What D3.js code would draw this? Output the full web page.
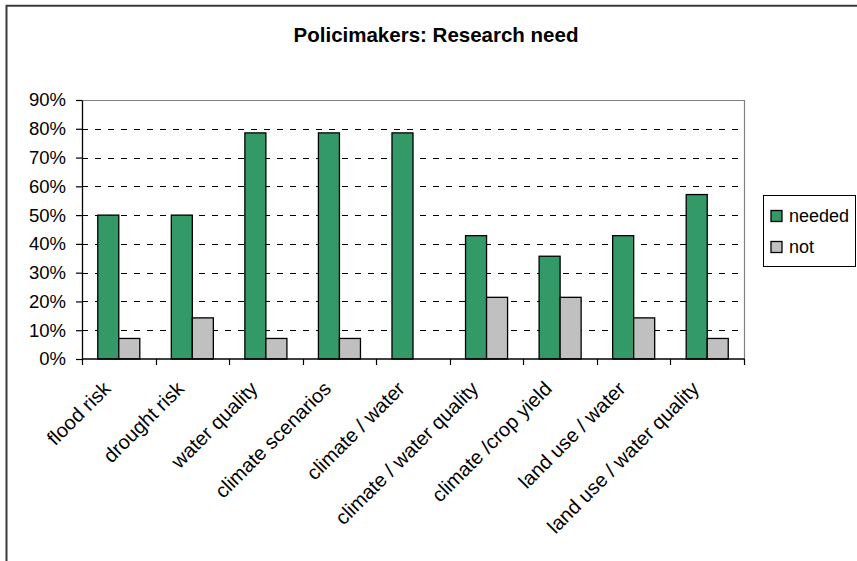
<!DOCTYPE html>
<html>
<head>
<meta charset="utf-8">
<script src="https://cdn.jsdelivr.net/npm/d3@7"></script>
<style>
  html, body { margin: 0; padding: 0; background: #fff; }
  svg { display: block; font-family: "Liberation Sans", Arial, sans-serif; }
</style>
</head>
<body>
<svg id="chart" width="857" height="561"></svg>
<script>
// Survey answers: share of policymakers who consider each topic a research need
const categories = [
  "flood risk", "drought risk", "water quality", "climate scenarios",
  "climate / water", "climate / water quality", "climate /crop yield",
  "land use / water", "land use / water quality"
];
const seriesNames = ["needed", "not"];
const needed = [0.5, 0.5, 0.7857, 0.7857, 0.7857, 0.4286, 0.3571, 0.4286, 0.5714];
const notNeeded = [0.0714, 0.1429, 0.0714, 0.0714, 0, 0.2143, 0.2143, 0.1429, 0.0714];
const yTicks = [0, 0.1, 0.2, 0.3, 0.4, 0.5, 0.6, 0.7, 0.8, 0.9];
const colors = ["#339966", "#c0c0c0"];

const svg = d3.select("#chart");
const plot = { left: 82, right: 744, top: 100, bottom: 359 };

// Outer chart frame
svg.append("path")
  .attr("d", "M6.5,561 V5.8 H857")
  .attr("fill", "none")
  .attr("stroke", "#3a3a3a")
  .attr("stroke-width", 2);

// Title
svg.append("text")
  .attr("x", 436)
  .attr("y", 41.5)
  .attr("text-anchor", "middle")
  .attr("font-weight", "bold")
  .attr("font-size", "20.5px")
  .attr("fill", "#000")
  .text("Policimakers: Research need");

const x = d3.scaleBand()
  .domain(categories)
  .range([plot.left, plot.right])
  .paddingInner(3 / 7)
  .paddingOuter(1.5 / 7);
const xs = d3.scaleBand().domain(seriesNames).range([0, x.bandwidth()]);
const xEdge = d3.scaleLinear().domain([0, categories.length]).range([plot.left, plot.right]);
const y = d3.scaleLinear().domain([0, 0.9]).range([plot.bottom, plot.top]);

// Dashed gridlines
svg.append("g")
  .selectAll("line")
  .data(yTicks.filter(t => t > 0 && t < 0.9))
  .join("line")
  .attr("x1", plot.left).attr("x2", plot.right)
  .attr("y1", d => Math.round(y(d)) + 0.5).attr("y2", d => Math.round(y(d)) + 0.5)
  .attr("stroke", "#000")
  .attr("stroke-width", 1)
  .attr("stroke-dasharray", "6,7");

// Plot area border (top and right)
svg.append("path")
  .attr("d", `M${plot.left},${Math.round(plot.top) + 0.5} H${plot.right + 0.5} V${plot.bottom}`)
  .attr("fill", "none")
  .attr("stroke", "#808080")
  .attr("stroke-width", 1.2);

// Bars
const rows = categories.map((c, i) => ({ cat: c, values: [needed[i], notNeeded[i]] }));
const groups = svg.append("g").selectAll("g")
  .data(rows)
  .join("g")
  .attr("transform", d => `translate(${x(d.cat)},0)`);
groups.selectAll("rect")
  .data(d => d.values.map((v, j) => ({ key: seriesNames[j], v, j })).filter(d => d.v > 0))
  .join("rect")
  .attr("x", d => xs(d.key))
  .attr("y", d => y(d.v))
  .attr("width", xs.bandwidth())
  .attr("height", d => y(0) - y(d.v))
  .attr("fill", d => colors[d.j])
  .attr("stroke", "#000")
  .attr("stroke-width", 1.3);

// Y axis
const yAxis = d3.axisLeft(y)
  .tickValues(yTicks)
  .tickFormat(d3.format(".0%"))
  .tickSizeInner(6)
  .tickSizeOuter(0)
  .tickPadding(10);
const gy = svg.append("g")
  .attr("transform", `translate(${plot.left},0)`)
  .call(yAxis);
gy.select(".domain").attr("stroke", "#000").attr("stroke-width", 1.3);
gy.selectAll(".tick line").attr("stroke", "#000").attr("stroke-width", 1.2);
gy.selectAll(".tick text")
  .attr("font-size", "18.5px")
  .attr("font-family", "Liberation Sans, Arial, sans-serif")
  .attr("fill", "#000");

// X axis line with ticks at category boundaries
svg.append("line")
  .attr("x1", plot.left).attr("x2", plot.right + 0.5)
  .attr("y1", plot.bottom).attr("y2", plot.bottom)
  .attr("stroke", "#000").attr("stroke-width", 1.3);
svg.append("g").selectAll("line")
  .data(d3.range(categories.length + 1))
  .join("line")
  .attr("x1", d => Math.round(xEdge(d)) + 0.5).attr("x2", d => Math.round(xEdge(d)) + 0.5)
  .attr("y1", plot.bottom).attr("y2", plot.bottom + 6)
  .attr("stroke", "#000").attr("stroke-width", 1.2);

// Rotated category labels
svg.append("g").selectAll("text")
  .data(categories)
  .join("text")
  .attr("transform", d => `translate(${x(d) + x.bandwidth() / 2 - 7},${plot.bottom + 31}) rotate(-45)`)
  .attr("text-anchor", "end")
  .attr("font-size", "20px")
  .attr("fill", "#000")
  .text(d => d);

// Legend
const legend = svg.append("g");
legend.append("rect")
  .attr("x", 763.5).attr("y", 195.5)
  .attr("width", 92).attr("height", 71)
  .attr("fill", "#fff")
  .attr("stroke", "#000")
  .attr("stroke-width", 1);
const items = legend.selectAll("g.item")
  .data(seriesNames)
  .join("g")
  .attr("class", "item")
  .attr("transform", (d, i) => `translate(771,${216 + i * 31})`);
items.append("rect")
  .attr("x", 0).attr("y", -5.5)
  .attr("width", 11).attr("height", 11)
  .attr("fill", (d, i) => colors[i])
  .attr("stroke", "#000")
  .attr("stroke-width", 1.3);
items.append("text")
  .attr("x", 18).attr("y", 6)
  .attr("font-size", "18px")
  .attr("fill", "#000")
  .text(d => d);
</script>
</body>
</html>
